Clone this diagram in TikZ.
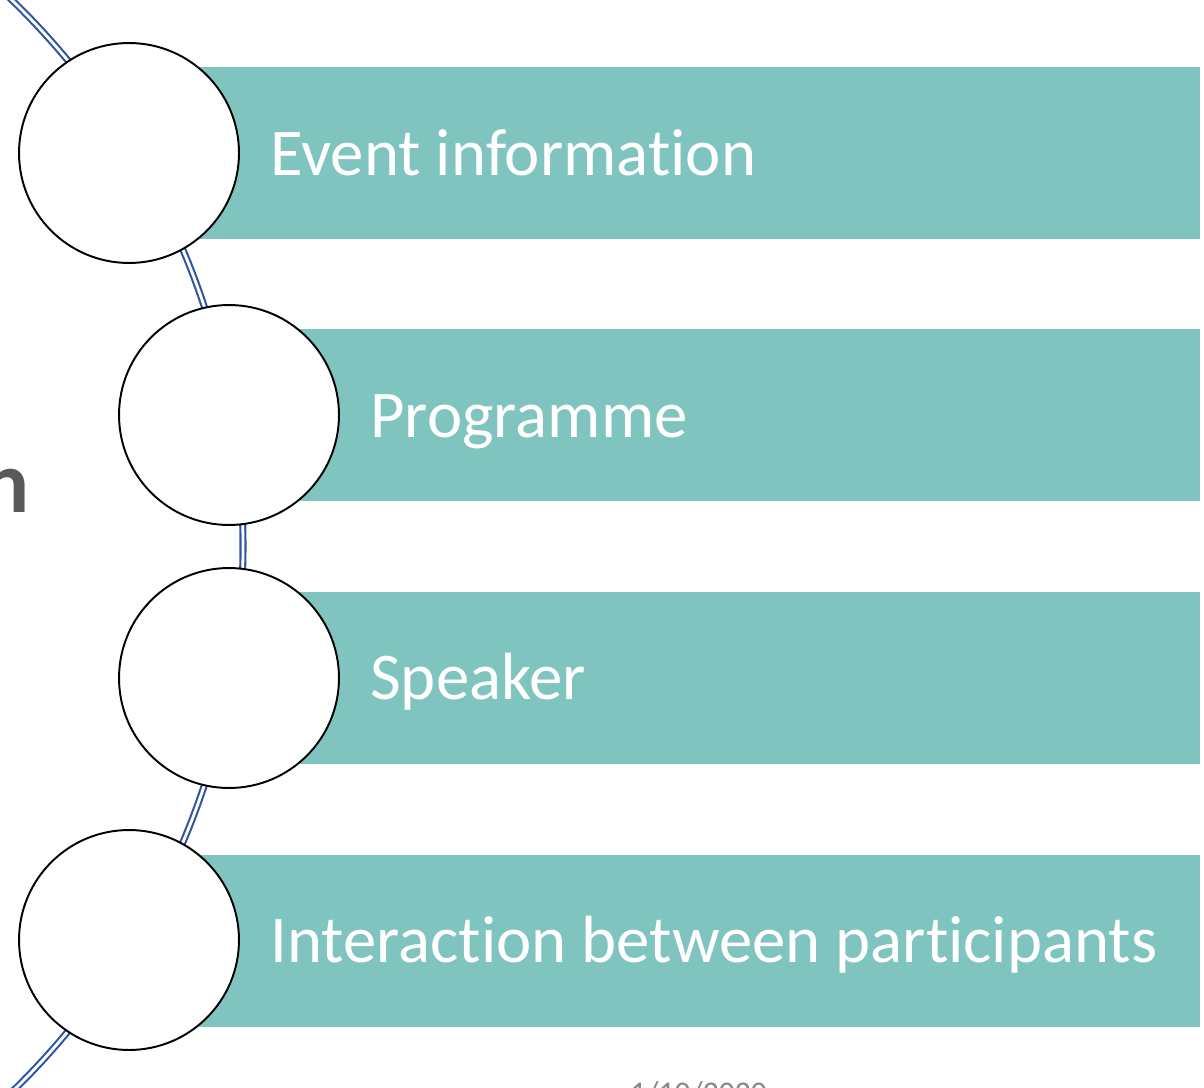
\documentclass[tikz,border=0pt]{standalone}
\usepackage{fontspec}
\setmainfont{Carlito}[Ligatures=NoCommon]
\usetikzlibrary{calc}
\definecolor{barteal}{RGB}{128,196,192}
\definecolor{arcblue}{RGB}{47,85,160}
\definecolor{titlegray}{RGB}{89,89,89}
\definecolor{dategray}{RGB}{137,137,137}

\begin{document}
\begin{tikzpicture}[x=0.02cm,y=0.02cm,
    bar/.style={fill=barteal},
    ring/.style={circle,draw=black,line width=1.1pt,fill=white,minimum size=4.4cm,inner sep=0pt},
    barlabel/.style={anchor=base west,text=white,inner sep=0pt,font=\fontsize{38}{46}\selectfont}]
      \def\W{1204}
      \def\H{1088}
      \def\R{760.5}
      \useasboundingbox (0,0) rectangle (\W,-\H);
      \clip (0,0) rectangle (\W,-\H);
      % bars
      \fill[bar] (129,-67) rectangle (1200,-239);
      \fill[bar] (229,-329) rectangle (1200,-501);
      \fill[bar] (229,-592) rectangle (1200,-764);
      \fill[bar] (129,-855) rectangle (1200,-1027);
      % big arc, behind the rings
      \coordinate (O) at (-517.5,-546);
      \draw[arcblue,line width=1.2pt,double=white,double distance=1.6pt]
        ($(O)+(48:\R)$) arc[start angle=48,end angle=-48,radius=\R];
      % rings
      \node[ring] (c1) at (129,-153) {};
      \node[ring] (c2) at (229,-415) {};
      \node[ring] (c3) at (229,-678) {};
      \node[ring] (c4) at (129,-940) {};
      % texts
      \node[barlabel] (t1) at (270,-175) {Event information};
      \node[barlabel] (t2) at (370,-437) {Programme};
      \node[barlabel] (t3) at (370,-699) {Speaker};
      \node[barlabel] (t4) at (270,-962) {Interaction between participants};
      \node[anchor=base east,inner sep=0pt,text=titlegray,font=\bfseries\fontsize{50}{58}\selectfont] (title) at (30,-512) {n};
      \node[anchor=base west,inner sep=0pt,text=dategray,font=\fontsize{18}{22}\selectfont] (date) at (630,-1103) {1/10/2020};
    \end{tikzpicture}
\end{document}
